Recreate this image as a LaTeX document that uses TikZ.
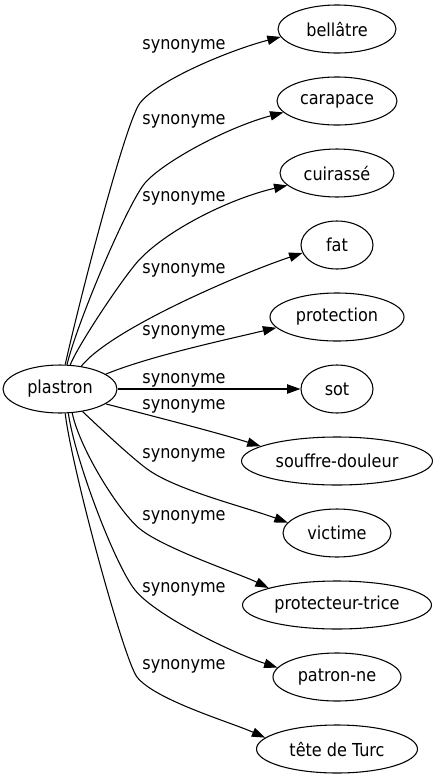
\documentclass[tikz,border=0pt]{standalone}
\usepackage{fontspec}
\setmainfont{DejaVu Sans Condensed}
\usetikzlibrary{arrows.meta,shapes.geometric}
\begin{document}
\begin{tikzpicture}[x=0.75pt,y=-0.75pt,
  nd/.style={draw, ellipse, inner sep=0pt, minimum height=36pt, line width=0.8pt, font=\fontsize{13.4}{16}\selectfont},
  lb/.style={inner sep=0pt, font=\fontsize{13.4}{16}\selectfont},
  syn/.style={draw, line width=0.8pt, -{Triangle[length=10pt,width=7pt]}}]
\useasboundingbox (0,0) rectangle (437,779);
\node[nd, minimum width=85.5pt] (p) at (60,389) {plastron};
\node[nd, minimum width=88.5pt] (b1) at (337,29) {bellâtre};
\node[nd, minimum width=90pt] (b2) at (337,101) {carapace};
\node[nd, minimum width=85.5pt] (b3) at (337,173) {cuirassé};
\node[nd, minimum width=54pt] (b4) at (337,245) {fat};
\node[nd, minimum width=100.5pt] (b5) at (337,317) {protection};
\node[nd, minimum width=54pt] (b6) at (337,389) {sot};
\node[nd, minimum width=143.25pt] (b7) at (337,461) {souffre-douleur};
\node[nd, minimum width=81pt] (b8) at (337,533) {victime};
\node[nd, minimum width=141.75pt] (b9) at (337,605) {protecteur-trice};
\node[nd, minimum width=96pt] (b10) at (337,677) {patron-ne};
\node[nd, minimum width=120.75pt] (b11) at (337,749) {tête de Turc};
\node[lb] (l1) at (184,46) {synonyme};
\node[lb] (l2) at (184,121.5) {synonyme};
\node[lb] (l3) at (184,198.5) {synonyme};
\node[lb] (l4) at (184,270) {synonyme};
\node[lb] (l5) at (184,332.5) {synonyme};
\node[lb] (l6) at (184,380) {synonyme};
\node[lb] (l7) at (184,406.7) {synonyme};
\node[lb] (l8) at (184,455) {synonyme};
\node[lb] (l9) at (184,517.5) {synonyme};
\node[lb] (l10) at (184,589.5) {synonyme};
\node[lb] (l11) at (184,666.5) {synonyme};
\draw[syn] (p.78) .. controls (82,290) and (126,121) .. (140,103) .. controls (158,80) and (230,50) .. (b1.188);
\draw[syn] (p.74) .. controls (78,320) and (128,203) .. (145,183) .. controls (162,163) and (225,128) .. (b2.192);
\draw[syn] (p.67) .. controls (78,345) and (125,274.5) .. (140,259) .. controls (170,228) and (232,198) .. (b3.194);
\draw[syn] (p.47) .. controls (112,328) and (245,272) .. (b4.193);
\draw[syn] (p.18) .. controls (150,356) and (225,340) .. (b5.190);
\draw[syn] (p) -- (b6);
\draw[syn] (p.342) .. controls (160,418) and (215,432) .. (b7.169);
\draw[syn] (p.315) .. controls (100,428) and (135,461) .. (150,471) .. controls (180,491) and (245,507) .. (b8.168);
\draw[syn] (p.297) .. controls (80,450) and (120,513) .. (140,529) .. controls (165,549) and (240,574) .. (b9.166);
\draw[syn] (p.289) .. controls (75,460) and (115,565) .. (135,590) .. controls (155,615) and (230,652) .. (b10.171);
\draw[syn] (p.282) .. controls (72,470) and (124,660) .. (137,677) .. controls (155,700) and (230,722) .. (b11.171);
\end{tikzpicture}
\end{document}
